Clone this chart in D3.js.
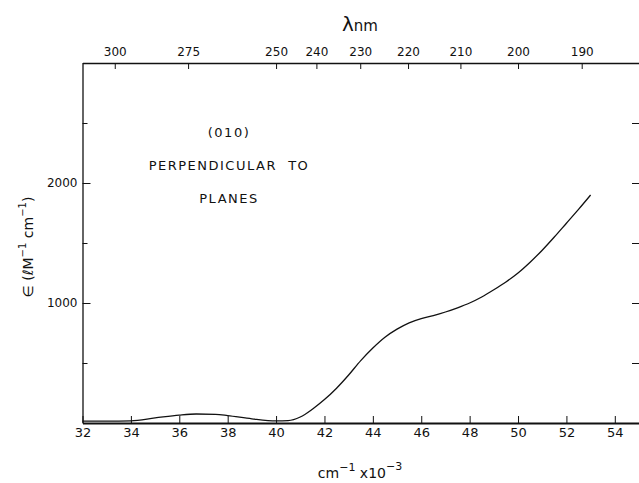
<!DOCTYPE html>
<html>
<head>
<meta charset="utf-8">
<script src="https://cdn.jsdelivr.net/npm/d3@7"></script>
<style>
    body { margin: 0; background: #fff; }
    svg { display: block; }
    text { font-family: "DejaVu Sans", sans-serif; fill: #111; }
    .axis path, .axis line { stroke: #111; }
</style>
</head>
<body>
<div id="chart"></div>
<script>
// wavenumber (cm^-1 x 10^-3) and extinction coefficient
let wavenumber = [32, 33, 34, 35, 36, 36.7, 37.5, 38, 39, 40, 40.5, 41, 41.5, 42, 42.5, 43, 43.5,
    44, 44.5, 45, 45.5, 46, 46.5, 47, 47.5, 48, 48.5, 49, 49.5, 50, 50.5, 51, 51.5, 52, 52.5, 53];
let epsilon = [15, 15, 18, 42, 66, 75, 72, 62, 35, 18, 20, 50, 115, 195, 290, 400, 520,
    625, 715, 782, 835, 870, 895, 925, 960, 1000, 1050, 1110, 1175, 1250, 1340, 1440, 1550, 1665, 1780, 1900];

let xTicks = [32, 34, 36, 38, 40, 42, 44, 46, 48, 50, 52, 54];
let yTicks = [500, 1000, 1500, 2000, 2500, 3000];
let yLabelled = [1000, 2000];
let lambdaTicks = [300, 275, 250, 240, 230, 220, 210, 200, 190];
let noteLines = ["(010)", "PERPENDICULAR  TO", "PLANES"];

let width = 639, height = 483;
let margin = {left: 82.5, right: 639, top: 63, bottom: 423};

let svg = d3.select('#chart').append('svg')
    .attr('width', width)
    .attr('height', height);

let x = d3.scaleLinear().domain([32, 55]).range([margin.left, margin.right]);
let y = d3.scaleLinear().domain([0, 3000]).range([margin.bottom, margin.top]);

// bottom axis (ticks point inward)
let xAxis = svg.append('g').classed('axis', true)
    .attr('transform', `translate(0,${margin.bottom})`)
    .call(d3.axisBottom(x).tickValues(xTicks).tickSize(-7).tickSizeOuter(0).tickPadding(5));
xAxis.select('.domain').attr('stroke-width', 2);
xAxis.selectAll('text').attr('font-size', 13);

// left axis
let yAxis = svg.append('g').classed('axis', true)
    .attr('transform', `translate(${margin.left},0)`)
    .call(d3.axisLeft(y).tickValues(yTicks).tickSize(-7).tickSizeOuter(0).tickPadding(5)
        .tickFormat(d => yLabelled.includes(d) ? d : ''));
yAxis.select('.domain').attr('stroke-width', 1.3);
yAxis.selectAll('text').attr('font-size', 12);
yAxis.selectAll('.tick line').attr('x2', d => yLabelled.includes(d) ? 8 : 5);

// top axis: wavelength in nm
let topAxis = svg.append('g').classed('axis', true)
    .attr('transform', `translate(0,${margin.top})`)
    .call(d3.axisTop(x).tickValues(lambdaTicks.map(l => 1e4 / l)).tickSize(-6).tickSizeOuter(0).tickPadding(7)
        .tickFormat((d, i) => lambdaTicks[i]));
topAxis.select('.domain').attr('stroke-width', 1.3);
topAxis.selectAll('text').attr('font-size', 12);

// right side: ticks only
let rightAxis = svg.append('g').classed('axis', true)
    .attr('transform', `translate(${margin.right},0)`)
    .call(d3.axisRight(y).tickValues(yTicks.slice(0, 5)).tickSize(-7).tickFormat(''));
rightAxis.select('.domain').remove();

// spectrum
let line = d3.line()
    .x((d, i) => x(wavenumber[i]))
    .y(d => y(d))
    .curve(d3.curveMonotoneX);

svg.append('path')
    .datum(epsilon)
    .attr('d', line)
    .attr('fill', 'none')
    .attr('stroke', '#111')
    .attr('stroke-width', 1.3);

// annotation
svg.append('g').selectAll('text')
    .data(noteLines)
    .join('text')
    .attr('x', 229)
    .attr('y', (d, i) => 137 + i * 33)
    .attr('text-anchor', 'middle')
    .attr('font-size', 13)
    .attr('letter-spacing', 1.5)
    .style('white-space', 'pre')
    .text(d => d);

// axis titles
let lam = svg.append('text')
    .attr('x', 360)
    .attr('y', 31)
    .attr('text-anchor', 'middle')
    .attr('font-size', 15);
lam.append('tspan').attr('font-size', 20).text('λ');
lam.append('tspan').text('nm');

let xt = svg.append('text')
    .attr('x', 360)
    .attr('y', 478)
    .attr('text-anchor', 'middle')
    .attr('font-size', 14);
xt.append('tspan').text('cm');
xt.append('tspan').attr('dy', -7).attr('font-size', 11).text('−1');
xt.append('tspan').attr('dy', 7).text(' x10');
xt.append('tspan').attr('dy', -8).attr('font-size', 11).text('−3');

let yt = svg.append('text')
    .attr('transform', 'translate(33,247) rotate(-90)')
    .attr('text-anchor', 'middle')
    .attr('font-size', 14);
yt.append('tspan').text('∈ (ℓM');
yt.append('tspan').attr('dy', -7).attr('font-size', 10).text('−1');
yt.append('tspan').attr('dy', 7).text(' cm');
yt.append('tspan').attr('dy', -7).attr('font-size', 10).text('−1');
yt.append('tspan').attr('dy', 7).text(')');
</script>
</body>
</html>
